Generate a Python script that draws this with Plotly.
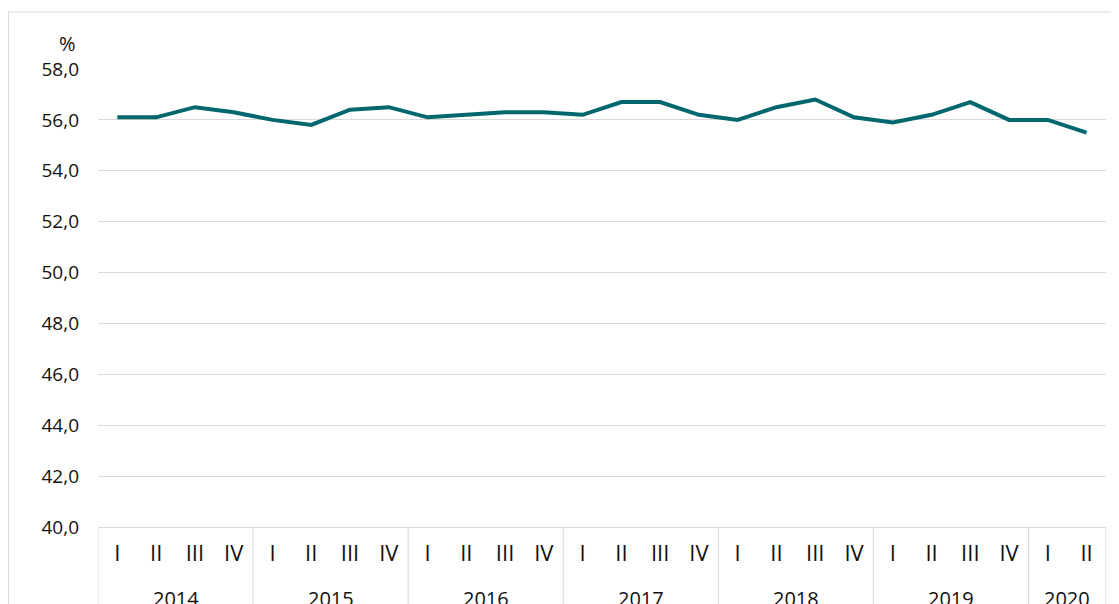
import plotly.graph_objects as go

years = ["2014", "2015", "2016", "2017", "2018", "2019", "2020"]
quarters_per_year = [4, 4, 4, 4, 4, 4, 2]
roman = ["I", "II", "III", "IV"]
values = [56.1, 56.1, 56.5, 56.3,
          56.0, 55.8, 56.4, 56.5,
          56.1, 56.2, 56.3, 56.3,
          56.2, 56.7, 56.7, 56.2,
          56.0, 56.5, 56.8, 56.1,
          55.9, 56.2, 56.7, 56.0,
          56.0, 55.5]
y_ticks = [40, 42, 44, 46, 48, 50, 52, 54, 56, 58]

# page has an 8px body margin; figure sized to fit the viewport
W, H = 1111, 596
ML, MR, MT, MB = 90, 13, 61, 77
PW, PH = W - ML - MR, H - MT - MB

tick_text = []
for n in quarters_per_year:
    tick_text += roman[:n]
x = list(range(len(values)))

FONT = "Open Sans"
FS = 19
TXT = "#111111"
GRID = "#d9d9d9"

fig = go.Figure()
fig.add_trace(go.Scatter(x=x, y=values, mode="lines",
                         line=dict(color="#00676e", width=4),
                         hoverinfo="skip", showlegend=False))

shapes = []
annotations = []
start = 0
bounds = [-0.5]
for yr, n in zip(years, quarters_per_year):
    center = start + (n - 1) / 2
    annotations.append(dict(x=center, xref="x", y=0, yref="paper", yshift=-71,
                            text=yr, showarrow=False, yanchor="middle",
                            font=dict(family=FONT, size=20, color=TXT)))
    start += n
    bounds.append(start - 0.5)
for b in bounds:
    shapes.append(dict(type="line", xref="x", yref="paper", x0=b, x1=b,
                       y0=0, y1=-MB / PH - 0.05, line=dict(color=GRID, width=1)))
# outer frame
shapes.append(dict(type="rect", xref="paper", yref="paper",
                   x0=(0.5 - ML) / PW, x1=(W + 20 - ML) / PW,
                   y0=-(MB + 20) / PH, y1=(H - 4 - MB) / PH,
                   line=dict(color=GRID, width=1), fillcolor="rgba(0,0,0,0)",
                   layer="below"))
annotations.append(dict(x=(70 - ML) / PW, xref="paper", xanchor="right",
                        y=(H - 36 - MB) / PH, yref="paper", yanchor="middle",
                        text="%", showarrow=False,
                        font=dict(family=FONT, size=20, color=TXT)))

fig.update_layout(
    width=W, height=H,
    margin=dict(l=ML, r=MR, t=MT, b=MB),
    paper_bgcolor="white", plot_bgcolor="white",
    separators=", ",
    font=dict(family=FONT, size=FS, color=TXT),
    xaxis=dict(range=[-0.5, len(values) - 0.5], tickvals=x, ticktext=tick_text,
               tickfont=dict(size=22),
               showgrid=False, zeroline=False, showline=True, linecolor=GRID,
               ticks="", ticklabelstandoff=7, fixedrange=True),
    yaxis=dict(range=[40, 58], tickvals=y_ticks, tickformat=".1f",
               showgrid=True, gridcolor=GRID, gridwidth=1, zeroline=False,
               showline=False, ticks="", ticklabelstandoff=18, fixedrange=True),
    shapes=shapes, annotations=annotations,
)

fig.write_html("out.html")
